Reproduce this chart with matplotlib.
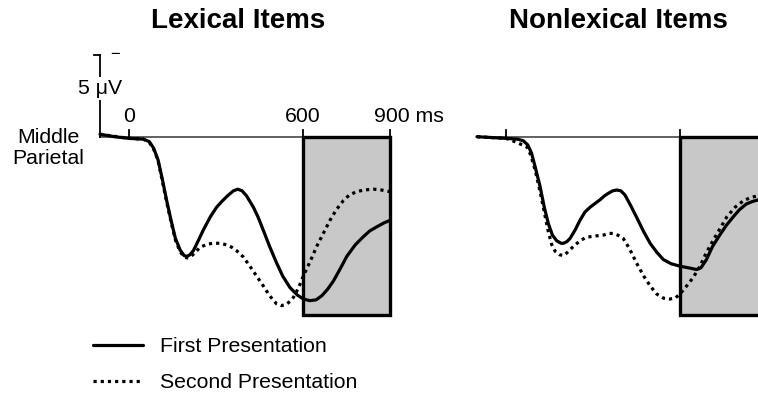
import matplotlib
matplotlib.use("Agg")
import matplotlib.pyplot as plt
from matplotlib.patches import Rectangle
from matplotlib.lines import Line2D

plt.rcParams['font.family'] = ['Liberation Sans', 'DejaVu Sans']

# ---------------- data (time in ms, amplitude in microvolts; negative plotted up) -------------
lex_first_t = [-100, -50, 0, 50, 70, 85, 100, 115, 130, 145, 160, 176, 190, 199, 210, 222, 240,
               256, 280, 302, 320, 340, 360, 375, 390, 405, 429, 445, 463, 485, 509, 530, 555,
               580, 601, 624, 645, 665, 685, 705, 730, 751, 780, 808, 830, 854, 880, 900]
lex_first_v = [-0.15, 0.0, 0.1, 0.15, 0.3, 0.7, 1.4, 2.6, 3.9, 5.1, 6.2, 6.9, 7.25, 7.3, 7.2, 6.95,
               6.3, 5.7, 4.9, 4.3, 3.95, 3.6, 3.3, 3.2, 3.3, 3.6, 4.3, 4.9, 5.7, 6.7, 7.7, 8.5, 9.2,
               9.65, 9.9, 10.0, 9.95, 9.7, 9.3, 8.8, 8.0, 7.3, 6.6, 6.1, 5.75, 5.5, 5.25, 5.1]

lex_second_t = [-100, 0, 50, 70, 85, 100, 115, 130, 145, 160, 176, 190, 205, 220, 245, 270, 291,
                315, 337, 355, 371, 395, 417, 440, 463, 485, 509, 525, 540, 555, 567, 585, 601,
                625, 647, 670, 693, 715, 739, 760, 785, 810, 843, 870, 900]
lex_second_v = [-0.15, 0.1, 0.15, 0.35, 0.75, 1.45, 2.7, 4.0, 5.2, 6.3, 7.0, 7.35, 7.4, 7.2, 6.75,
                6.55, 6.5, 6.5, 6.6, 6.75, 6.95, 7.35, 7.9, 8.5, 9.1, 9.7, 10.2, 10.3, 10.25, 10.05,
                9.8, 9.2, 8.5, 7.6, 6.7, 5.9, 5.1, 4.45, 3.9, 3.55, 3.35, 3.25, 3.2, 3.25, 3.35]

nonlex_first_t = [-100, -50, 0, 40, 60, 75, 88, 100, 117, 132, 146, 160, 175, 190, 198, 210, 221,
                  238, 255, 272, 290, 305, 324, 340, 353, 368, 382, 396, 410, 430, 450, 475, 497,
                  520, 543, 570, 600, 630, 657, 672, 691, 712, 737, 760, 783, 805, 829, 850, 870]
nonlex_first_v = [0.0, 0.05, 0.1, 0.15, 0.25, 0.5, 1.0, 1.8, 3.0, 4.3, 5.3, 6.0, 6.35, 6.5, 6.5,
                  6.4, 6.2, 5.7, 5.1, 4.6, 4.3, 4.1, 3.85, 3.6, 3.45, 3.3, 3.25, 3.3, 3.55, 4.2,
                  4.9, 5.8, 6.5, 7.05, 7.5, 7.75, 7.9, 8.0, 8.1, 8.0, 7.5, 6.7, 6.0, 5.4, 4.9,
                  4.45, 4.1, 3.95, 3.85]

nonlex_second_t = [-100, -50, 0, 30, 50, 71, 85, 100, 117, 132, 146, 158, 170, 185, 198, 212, 232,
                   255, 275, 290, 310, 336, 355, 370, 385, 404, 425, 450, 475, 497, 520, 543, 565,
                   583, 600, 623, 645, 669, 690, 715, 738, 761, 790, 819, 845, 870]
nonlex_second_v = [0.0, 0.05, 0.1, 0.3, 0.45, 0.6, 1.1, 2.0, 3.3, 4.6, 5.8, 6.6, 7.0, 7.2, 7.25,
                   7.05, 6.7, 6.35, 6.15, 6.1, 6.05, 6.0, 5.9, 5.9, 6.0, 6.2, 6.8, 7.7, 8.5, 9.1,
                   9.6, 9.85, 9.9, 9.85, 9.6, 9.1, 8.6, 7.9, 7.1, 6.3, 5.6, 4.9, 4.3, 3.9, 3.7, 3.6]

panel_titles = ["Lexical Items", "Nonlexical Items"]
series_labels = ["First Presentation", "Second Presentation"]
time_ticks = [0, 600]
window = (600, 900)
scale_uv = 5

# ---------------- figure ----------------
W, H = 758, 394
fig = plt.figure(figsize=(W / 100, H / 100), dpi=100)

def px_rect(x0, y0, x1, y1):
    return [x0 / W, 1 - y1 / H, (x1 - x0) / W, (y1 - y0) / H]

YTOP, YBOT = -5.29, 11.18
panels = [
    (px_rect(100, 50, 390, 320), lex_first_t, lex_first_v, lex_second_t, lex_second_v),
    (px_rect(477, 50, 767, 320), nonlex_first_t, nonlex_first_v, nonlex_second_t, nonlex_second_v),
]

solid_kw = dict(color='black', lw=2.3, solid_capstyle='round', solid_joinstyle='round')
dot_kw = dict(color='black', lw=2.3, linestyle=(0, (1, 1.25)), dash_capstyle='butt')

axes = []
for rect, t1, v1, t2, v2 in panels:
    ax = fig.add_axes(rect)
    ax.set_xlim(-100, 900)
    ax.set_ylim(YBOT, YTOP)
    ax.axis('off')
    box_bottom = 10.87
    ax.add_patch(Rectangle((window[0], 0), window[1] - window[0], box_bottom,
                           facecolor='#c8c8c8', edgecolor='black', lw=2.4, zorder=1,
                           clip_on=False))
    ax.plot([-100, window[0]], [0, 0], color='#555555', lw=1.3, zorder=2, clip_on=False)
    for tk in time_ticks + [window[1]]:
        ax.plot([tk, tk], [0, -0.38], color='black', lw=1.3, zorder=2, clip_on=False)
    ax.plot(t2, v2, zorder=3, clip_on=False, **dot_kw)
    ax.plot(t1, v1, zorder=4, clip_on=False, **solid_kw)
    axes.append(ax)

ax = axes[0]
fs = 15.3
ax.text(0, -0.9, "0", ha='center', va='baseline', fontsize=fs)
ax.text(600, -0.9, "600", ha='center', va='baseline', fontsize=fs)
ax.text(845, -0.9, "900 ms", ha='left', va='baseline', fontsize=fs, clip_on=False)

# scale bar (negative up)
ax.plot([-100, -100], [0, -scale_uv], color='black', lw=1.3, clip_on=False, zorder=5)
ax.plot([-121, -100], [-scale_uv, -scale_uv], color='black', lw=1.3, clip_on=False, zorder=5)
ax.text(-48, -scale_uv, "\u2212", ha='center', va='center', fontsize=12, clip_on=False)
ax.text(-100, -2.95, "5 \u03bcV", ha='center', va='center', fontsize=fs, zorder=6,
        bbox=dict(facecolor='white', edgecolor='none', pad=1.5), clip_on=False)

fig.text(48 / W, 1 - 148 / H, "Middle\nParietal", ha='center', va='center',
         fontsize=fs, linespacing=1.1)

fig.text(238 / W, 1 - 21 / H, panel_titles[0], ha='center', va='center',
         fontsize=20, fontweight='bold')
fig.text(618 / W, 1 - 21 / H, panel_titles[1], ha='center', va='center',
         fontsize=20, fontweight='bold')

handles = [Line2D([], [], **solid_kw), Line2D([], [], **dot_kw)]
fig.legend(handles, series_labels, loc='upper left',
           bbox_to_anchor=(93 / W, 1 - 337 / H), frameon=False, fontsize=fs,
           handlelength=2.35, handletextpad=0.8, labelspacing=0.82, borderpad=0,
           borderaxespad=0)

fig.savefig("out.png", dpi=100)
